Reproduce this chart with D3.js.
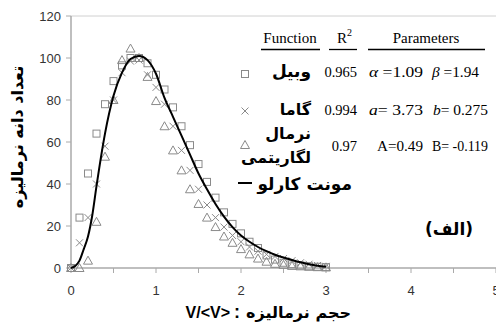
<!DOCTYPE html>
<html>
<head>
<meta charset="utf-8">
<script src="https://cdn.jsdelivr.net/npm/d3@7"></script>
<style>
  body { margin: 0; background: #fff; }
  svg { display: block; }
</style>
</head>
<body>
<div id="chart"></div>
<script>
// normalized volume V/<V>
const volume = [0, 0.1, 0.2, 0.3, 0.4, 0.5, 0.6, 0.7, 0.8, 0.9, 1.0,
  1.1, 1.2, 1.3, 1.4, 1.5, 1.6, 1.7, 1.8, 1.9, 2.0,
  2.1, 2.2, 2.3, 2.4, 2.5, 2.6, 2.7, 2.8, 2.9, 3.0];

const weibull = [0, 24, 45, 64, 78, 89, 96.5, 100, 100, 97.5, 92,
  85, 76.5, 67.5, 58.5, 49.5, 41, 33.5, 26.5, 21, 16.5,
  12.5, 9.5, 6, 4, 2.5, 1.8, 1.2, 0.8, 0.6, 0.4];

const gamma = [0, 12, 24, 40, 58, 80, 93, 98.5, 99, 92, 86,
  78, 67.5, 56, 46.5, 37.5, 30, 24, 19.5, 15.5, 12.5,
  10, 8, 6.5, 5.5, 4.5, 3.5, 2.5, 1.8, 1.2, 0.8];

const lognormal = [0, 0, 3.5, 22, 53, 80, 99, 104.5, 100, 91, 79.5,
  67.5, 56, 46.5, 37.5, 30.5, 24, 19.5, 15, 12, 9,
  6.5, 4.5, 3, 2, 1.5, 1, 0.8, 0.6, 0.4, 0.3];

const mcVolume = [0, 0.05, 0.1, 0.15, 0.2, 0.25, 0.3, 0.4, 0.5, 0.6, 0.7, 0.8, 0.9, 1.0,
  1.1, 1.2, 1.3, 1.4, 1.5, 1.6, 1.7, 1.8, 1.9, 2.0,
  2.1, 2.2, 2.3, 2.4, 2.5, 2.6, 2.7, 2.8, 2.9, 3.0];
const monteCarlo = [0, 1, 3.5, 9, 15, 25, 39, 64, 82, 93, 99.5, 101, 99, 92.5,
  81, 72, 63, 54, 45, 37.5, 30.5, 24.5, 19.5, 15.5,
  12.5, 10, 8, 6.3, 5, 3.8, 2.7, 1.8, 1.1, 0.6];

const xTicks = [0, 1, 2, 3, 4, 5];
const xMinorTicks = [0, 0.5, 1, 1.5, 2, 2.5, 3, 3.5, 4, 4.5, 5];
const yTicks = [0, 20, 40, 60, 80, 100, 120];

const tableHeader = ["Function", "R", "Parameters"];
const funcNames = ["وبیل", "گاما", "نرمال", "لگاریتمی"];
const r2Values = ["0.965", "0.994", "0.97"];
const paramSymbols = [["α", "β"], ["a", "b"], ["A", "B"]];
const paramValues = [[" =1.09", " =1.94"], ["= 3.73", "= 0.275"], ["=0.49", "= -0.119"]];

const width = 496, height = 324;
const margin = {top: 16, right: 0, bottom: 56, left: 71};

const svg = d3.select("#chart").append("svg")
  .attr("width", width)
  .attr("height", height);

const x = d3.scaleLinear().domain([0, 5]).range([margin.left, width - margin.right]);
const y = d3.scaleLinear().domain([0, 120]).range([height - margin.bottom, margin.top]);

const axisColor = "#aaa";
const markColor = "#8a8a8a";

// frame top line
svg.append("line")
  .attr("x1", x(0)).attr("x2", x(5))
  .attr("y1", y(120)).attr("y2", y(120))
  .attr("stroke", "#d0d0d0").attr("stroke-width", 1);

// x axis
const xAxis = svg.append("g").attr("transform", `translate(0,${y(0)})`);
xAxis.append("line")
  .attr("x1", x(0)).attr("x2", x(5))
  .attr("stroke", axisColor).attr("stroke-width", 1.5);
xAxis.selectAll(".tick")
  .data(xMinorTicks)
  .join("line")
  .attr("x1", d => x(d)).attr("x2", d => x(d))
  .attr("y1", 0).attr("y2", 5)
  .attr("stroke", axisColor);
xAxis.selectAll(".lbl")
  .data(xTicks)
  .join("text")
  .attr("x", d => x(d))
  .attr("y", 27)
  .attr("text-anchor", "middle")
  .attr("font-family", "Liberation Sans, Arial, sans-serif")
  .attr("font-size", 13)
  .attr("fill", "#333")
  .text(d => d);

// y axis
const yAxis = svg.append("g").attr("transform", `translate(${x(0)},0)`);
yAxis.append("line")
  .attr("y1", y(0)).attr("y2", y(120))
  .attr("stroke", axisColor).attr("stroke-width", 1.5);
yAxis.selectAll(".tick")
  .data(yTicks)
  .join("line")
  .attr("x1", -5).attr("x2", 0)
  .attr("y1", d => y(d)).attr("y2", d => y(d))
  .attr("stroke", axisColor);
yAxis.selectAll(".lbl")
  .data(yTicks)
  .join("text")
  .attr("x", -10)
  .attr("y", d => y(d) + 4.5)
  .attr("text-anchor", "end")
  .attr("font-family", "Liberation Sans, Arial, sans-serif")
  .attr("font-size", 13)
  .attr("fill", "#333")
  .text(d => d);

// markers
function square(g, cx, cy) {
  g.append("rect")
    .attr("x", cx - 3.5).attr("y", cy - 3.5)
    .attr("width", 7).attr("height", 7)
    .attr("fill", "none").attr("stroke", markColor).attr("stroke-width", 1);
}
function cross(g, cx, cy) {
  g.append("path")
    .attr("d", `M${cx - 3.5},${cy - 3.5}L${cx + 3.5},${cy + 3.5}M${cx - 3.5},${cy + 3.5}L${cx + 3.5},${cy - 3.5}`)
    .attr("stroke", markColor).attr("stroke-width", 1);
}
function triangle(g, cx, cy) {
  g.append("path")
    .attr("d", `M${cx},${cy - 4.5}L${cx + 4.5},${cy + 3.5}L${cx - 4.5},${cy + 3.5}Z`)
    .attr("fill", "none").attr("stroke", markColor).attr("stroke-width", 1);
}

const points = svg.append("g");
volume.forEach((v, i) => {
  square(points, x(v), y(weibull[i]));
  cross(points, x(v), y(gamma[i]));
  triangle(points, x(v), y(lognormal[i]));
});

// monte carlo curve
const line = d3.line()
  .x((d, i) => x(mcVolume[i]))
  .y(d => y(d))
  .curve(d3.curveMonotoneX);
svg.append("path")
  .datum(monteCarlo)
  .attr("d", line)
  .attr("fill", "none")
  .attr("stroke", "#000")
  .attr("stroke-width", 2);

// axis titles
const persian = "DejaVu Sans, sans-serif";
svg.append("text")
  .attr("transform", "translate(23,137) rotate(-90)")
  .attr("text-anchor", "middle")
  .attr("font-family", persian)
  .attr("font-weight", "bold")
  .attr("font-size", 16)
  .text("تعداد دانه نرمالیزه");

svg.append("text")
  .attr("x", 351).attr("y", 318)
  .attr("text-anchor", "end")
  .attr("font-family", persian)
  .attr("font-weight", "bold")
  .attr("font-size", 16)
  .text("حجم نرمالیزه");
svg.append("text")
  .attr("x", 237).attr("y", 318)
  .attr("text-anchor", "middle")
  .attr("font-family", "Liberation Sans, Arial, sans-serif")
  .attr("font-weight", "bold")
  .attr("font-size", 18)
  .text(":");
svg.append("text")
  .attr("x", 230).attr("y", 318)
  .attr("text-anchor", "end")
  .attr("font-family", "Liberation Sans, Arial, sans-serif")
  .attr("font-weight", "bold")
  .attr("font-size", 16)
  .text("V/<V>");

// table legend
const serif = "Liberation Serif, Times New Roman, serif";
const tbl = svg.append("g");
const headerX = [290, 342, 426];
const headerLines = [[261, 320], [329, 357], [368, 485]];
tbl.selectAll(".hdr")
  .data(tableHeader)
  .join("text")
  .attr("x", (d, i) => headerX[i])
  .attr("y", 43)
  .attr("text-anchor", "middle")
  .attr("font-family", serif)
  .attr("font-size", 15)
  .text(d => d);
tbl.append("text")
  .attr("x", 347).attr("y", 36)
  .attr("font-family", serif)
  .attr("font-size", 10)
  .text("2");
tbl.selectAll(".uline")
  .data(headerLines)
  .join("line")
  .attr("x1", d => d[0]).attr("x2", d => d[1])
  .attr("y1", 49.5).attr("y2", 49.5)
  .attr("stroke", "#000").attr("stroke-width", 1.3);

const rowY = [77, 115, 151];
square(tbl, 245, 74);
cross(tbl, 245, 111);
triangle(tbl, 245, 145);
tbl.append("line")
  .attr("x1", 238).attr("x2", 252)
  .attr("y1", 183).attr("y2", 183)
  .attr("stroke", "#000").attr("stroke-width", 2);

[[funcNames[0], 77, 17], [funcNames[1], 115, 16], [funcNames[2], 139, 16], [funcNames[3], 163, 16]].forEach(([t, yy, fs]) => {
  tbl.append("text")
    .attr("x", 311).attr("y", yy)
    .attr("text-anchor", "end")
    .attr("font-family", persian)
    .attr("font-weight", "bold")
    .attr("font-size", fs)
    .text(t);
});
tbl.append("text")
  .attr("x", 352).attr("y", 190)
  .attr("text-anchor", "end")
  .attr("font-family", persian)
  .attr("font-weight", "bold")
  .attr("font-size", 17)
  .text("مونت کارلو");

tbl.selectAll(".r2")
  .data(r2Values)
  .join("text")
  .attr("x", 357)
  .attr("y", (d, i) => rowY[i])
  .attr("text-anchor", "end")
  .attr("font-family", serif)
  .attr("font-size", 14.5)
  .text(d => d);

// parameters, fitted to the widths seen in the table
const paramX = [[369, 432], [369, 433], [377, 432]];
const paramW = [[54, 47], [54, 55], [46, 56]];
paramSymbols.forEach((row, r) => {
  row.forEach((sym, c) => {
    const t = tbl.append("text")
      .attr("x", paramX[r][c]).attr("y", rowY[r])
      .attr("font-family", serif)
      .attr("font-size", 15.5)
      .attr("textLength", paramW[r][c])
      .attr("lengthAdjust", "spacingAndGlyphs")
      .attr("xml:space", "preserve");
    t.append("tspan").attr("font-style", r < 2 ? "italic" : "normal").text(sym);
    t.append("tspan").text(paramValues[r][c]);
  });
});

// panel label
svg.append("text")
  .attr("x", 473).attr("y", 235)
  .attr("text-anchor", "end")
  .attr("font-family", persian)
  .attr("font-weight", "bold")
  .attr("font-size", 17)
  .text("(الف)");
</script>
</body>
</html>
